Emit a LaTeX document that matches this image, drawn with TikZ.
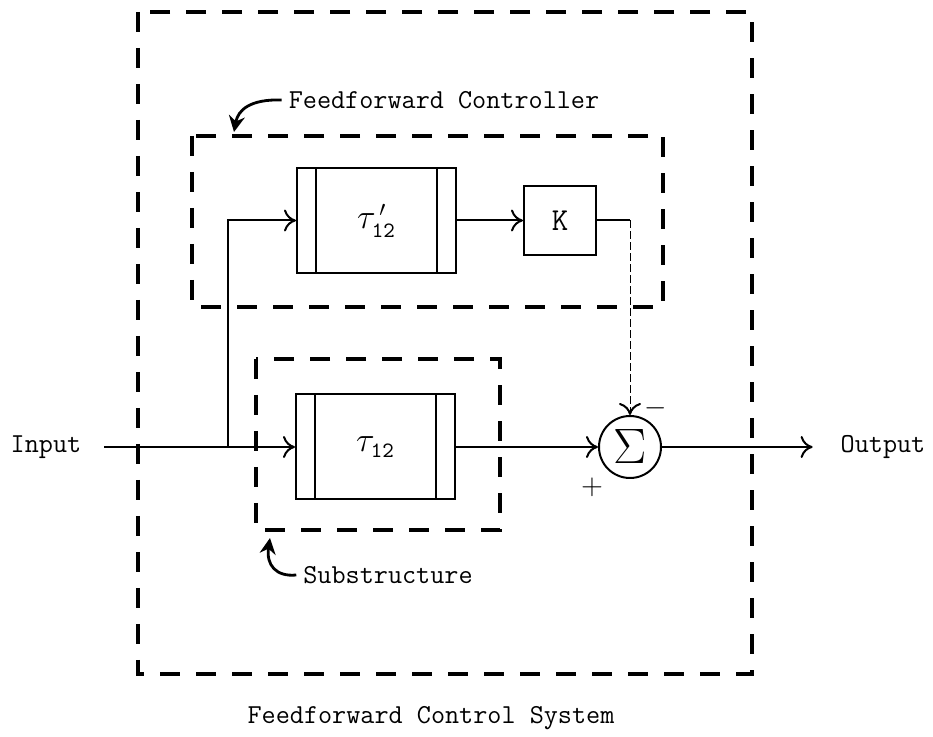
\documentclass[tikz,border=0pt]{standalone}
\usetikzlibrary{arrows.meta}
\begin{document}
\begin{tikzpicture}[
	x=0.5pt,
	y=-0.5pt,
	font=\fontsize{13.7}{16}\selectfont\ttfamily,
	frame/.style={line width=1.6pt, dash pattern=on 10pt off 8pt},
	wire/.style={line width=1pt},
	arr/.style={wire, -{To[length=6pt, width=11pt, line width=1pt]}},
	hook/.style={line width=1.4pt, -{Stealth[length=8pt, width=8pt]}},
	blk/.style={draw, line width=1pt, minimum width=79.5pt, minimum height=52.5pt, inner sep=0pt,
		path picture={
			\draw[line width=1pt] ([xshift=9.5pt]path picture bounding box.north west) -- ([xshift=9.5pt]path picture bounding box.south west);
			\draw[line width=1pt] ([xshift=-9.5pt]path picture bounding box.north east) -- ([xshift=-9.5pt]path picture bounding box.south east);}},
	sign/.style={font=\fontsize{14}{14}\selectfont}
	]
	\useasboundingbox (0,0) rectangle (933,737);

	% dashed frames
	\draw[frame] (138,12) rectangle (752,674);
	\draw[frame] (192,136) rectangle (663,307);
	\draw[frame] (256,359) rectangle (500,530);

	\node[blk] (tauu) at (376.5,220.5) {\fontsize{16}{16}\selectfont$\tau^{\,\prime}_{\mathtt{12}}$};
	\node[blk] (taul) at (375.5,447) {\fontsize{16}{16}\selectfont$\tau_{\mathtt{12}}$};
	\node[draw, wire, minimum width=36pt, minimum height=34.5pt, font=\fontsize{16}{16}\selectfont\ttfamily] (k) at (560,220.5) {K};
	\node[circle, draw, wire, minimum size=31pt, inner sep=0pt] (sum) at (630,447) {\fontsize{24}{24}\selectfont$\Sigma$};
	\node[sign] (minus) at (656,408) {$-$};
	\node[sign] (plus) at (592,487) {$+$};

	\node (inp) at (46,447) {Input};
	\node (outp) at (883,447) {Output};
	\coordinate (split) at (228,447);

	\draw[arr, shorten <=8pt] (inp.east) -- (taul.west);
	\draw[arr] (split) |- (tauu.west);
	\draw[arr] (tauu) -- (k);
	\draw[wire] (k.east) -- (k.east -| sum.north);
	\draw[line width=0.5pt, dash pattern=on 4pt off 1.5pt, -{To[length=6pt, width=11pt, line width=1pt]}] (k.east -| sum.north) -- (sum.north);
	\draw[arr] (taul) -- (sum);
	\draw[arr, shorten >=10.5pt] (sum) -- (outp.west);

	% labels
	\node (ffclbl) at (444,100) {Feedforward Controller};
	\coordinate (ffctip) at (234,132);
	\draw[hook] (ffclbl.west) .. controls (250,99) and (238,110) .. (ffctip);
	\node (subl) at (388,575) {Substructure};
	\coordinate (subtip) at (270,538);
	\draw[hook] (subl.west) .. controls (276,577) and (266,565) .. (subtip);
	\node (title) at (431,718) {Feedforward Control System};
\end{tikzpicture}
\end{document}
